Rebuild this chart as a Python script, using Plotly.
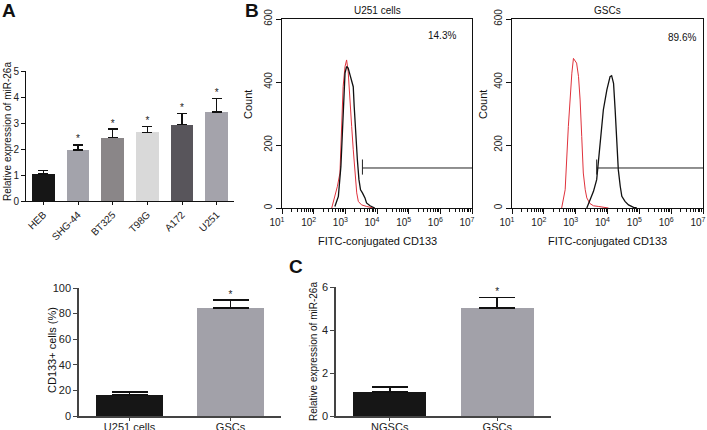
import plotly.graph_objects as go

W, H = 707, 430
FONT = "Liberation Sans, Arial, sans-serif"

# ---- panel A: miR-26a in glioma cell lines
lines_a = ["HEB", "SHG-44", "BT325", "T98G", "A172", "U251"]
expr_a = [1.03, 1.96, 2.44, 2.64, 2.94, 3.43]
err_a = [0.15, 0.2, 0.32, 0.22, 0.42, 0.52]
star_a = ["", "*", "*", "*", "*", "*"]
colors_a = ["#161616", "#a3a3ab", "#8a8688", "#d9d9d9", "#58555b", "#a4a3ab"]

# ---- panel B: CD133 flow histograms (x = log10 FITC intensity, y = count)
u251_red_x = [2.57, 2.75, 2.83, 2.88, 2.93, 2.99, 3.04, 3.09, 3.15, 3.20, 3.25, 3.30, 3.36, 3.41, 3.51, 3.67, 3.88]
u251_red_y = [0, 69, 111, 259, 385, 449, 470, 433, 354, 259, 185, 111, 48, 21, 10, 5, 0]
u251_blk_x = [2.67, 2.78, 2.86, 2.93, 2.99, 3.04, 3.09, 3.15, 3.20, 3.25, 3.28, 3.33, 3.38, 3.43, 3.48, 3.54, 3.62, 3.67, 3.78, 3.93]
u251_blk_y = [5, 37, 132, 312, 428, 449, 444, 422, 407, 385, 322, 217, 153, 90, 58, 48, 32, 16, 7, 0]
gsc_red_x = [2.56, 2.67, 2.77, 2.82, 2.88, 2.93, 2.98, 3.03, 3.09, 3.14, 3.19, 3.24, 3.30, 3.35, 3.45, 3.56, 3.71, 3.87, 4.03]
gsc_red_y = [0, 58, 259, 343, 428, 475, 465, 460, 417, 343, 227, 111, 58, 32, 14, 7, 5, 3, 0]
gsc_blk_x = [3.35, 3.45, 3.56, 3.66, 3.77, 3.87, 3.98, 4.08, 4.13, 4.19, 4.24, 4.29, 4.34, 4.40, 4.45, 4.55, 4.66, 4.82, 4.92]
gsc_blk_y = [0, 26, 53, 90, 195, 312, 375, 417, 420, 396, 312, 206, 121, 69, 37, 21, 10, 2, 0]
gate_start = [3.54, 3.66]
gate_level = 127
gate_lo, gate_hi = 106, 154
pct_text = ["14.3%", "89.6%"]
hist_titles = ["U251 cells", "GSCs"]
decades = [1, 2, 3, 4, 5, 6, 7]

# ---- bottom left: CD133+ fraction
groups_b = ["U251 cells", "GSCs"]
pct_b = [16.5, 84.5]
err_b = [2.3, 6.0]
star_b = ["", "*"]

# ---- panel C: miR-26a in NGSCs vs GSCs
groups_c = ["NGSCs", "GSCs"]
expr_c = [1.12, 5.02]
err_c = [0.23, 0.5]
star_c = ["", "*"]
colors_2 = ["#161616", "#a2a1a9"]


def fx(p):
    return p / W


def fy(p):
    return 1 - p / H


fig = go.Figure()


def bars(cats, vals, errs, stars, cols, xa, ya, bw, cap):
    fig.add_trace(go.Bar(x=cats, y=vals, marker_color=cols, marker_line_width=0, width=bw,
                         error_y=dict(type="data", array=errs, arrayminus=[0] * len(errs), symmetric=False,
                                      color="#111", thickness=1.6, width=cap),
                         xaxis=xa, yaxis=ya))
    fig.add_trace(go.Scatter(x=cats, y=[v + e for v, e in zip(vals, errs)], mode="text", text=stars,
                             textposition="top center", textfont=dict(size=10, color="#222"),
                             xaxis=xa, yaxis=ya))


bars(lines_a, expr_a, err_a, star_a, colors_a, "x", "y", 0.66, 5)
bars(groups_b, pct_b, err_b, star_b, colors_2, "x4", "y4", 0.66, 18)
bars(groups_c, expr_c, err_c, star_c, colors_2, "x5", "y5", 0.68, 18)

hists = [(u251_red_x, u251_red_y, u251_blk_x, u251_blk_y, "x2", "y2"),
         (gsc_red_x, gsc_red_y, gsc_blk_x, gsc_blk_y, "x3", "y3")]
for i, (rx, ry, bx, by, xa, ya) in enumerate(hists):
    fig.add_trace(go.Scatter(x=rx, y=ry, mode="lines", line=dict(color="#e0323c", width=1), xaxis=xa, yaxis=ya))
    fig.add_trace(go.Scatter(x=bx, y=by, mode="lines", line=dict(color="#111", width=1.3), xaxis=xa, yaxis=ya))
    fig.add_trace(go.Scatter(x=[gate_start[i], decades[-1]], y=[gate_level, gate_level], mode="lines",
                             line=dict(color="#222", width=1), xaxis=xa, yaxis=ya))
    fig.add_trace(go.Scatter(x=[gate_start[i], gate_start[i]], y=[gate_lo, gate_hi], mode="lines",
                             line=dict(color="#222", width=1), xaxis=xa, yaxis=ya))

minor_vals = [d + m for d in decades[:-1] for m in [0.301, 0.477, 0.602, 0.699, 0.778, 0.845, 0.903, 0.954]]
tick_font = dict(family=FONT, size=10, color="#222")

ax_common = dict(showgrid=False, zeroline=False, showline=True, linecolor="#111", linewidth=1,
                 ticks="outside", ticklen=4, tickcolor="#111", tickfont=tick_font, automargin=False)

hist_x = dict(ax_common, range=[decades[0], decades[-1]], tickvals=decades,
              ticktext=["10<sup>%d</sup>" % d for d in decades], mirror=True, ticklen=5,
              ticklabelshift=-5,
              minor=dict(tickmode="array", tickvals=minor_vals, ticks="outside", ticklen=3, tickcolor="#111"))
hist_y = dict(ax_common, range=[0, 600], tickvals=[0, 200, 400, 600], tickangle=-90, mirror=True, ticklen=5)

bar_line = dict(ax_common, linecolor="#444", linewidth=1.5, tickcolor="#444")
cat_font = dict(family=FONT, size=11, color="#222")

fig.update_layout(
    width=W, height=H, margin=dict(l=0, r=0, t=0, b=0),
    plot_bgcolor="white", paper_bgcolor="white", showlegend=False, bargap=0,
    font=dict(family=FONT, color="#222"),
    xaxis=dict(ax_common, domain=[fx(26), fx(234)], tickangle=-45, ticklen=3,
               tickfont=dict(family=FONT, size=10, color="#222")),
    yaxis=dict(ax_common, domain=[fy(201), fy(71)], range=[0, 5], dtick=1, ticklen=4),
    xaxis2=dict(hist_x, domain=[fx(282), fx(472)], anchor="y2"),
    yaxis2=dict(hist_y, domain=[fy(208), fy(19)], anchor="x2"),
    xaxis3=dict(hist_x, domain=[fx(512), fx(703)], anchor="y3"),
    yaxis3=dict(hist_y, domain=[fy(208), fy(19)], anchor="x3"),
    xaxis4=dict(bar_line, domain=[fx(79), fx(281)], anchor="y4", ticklen=3, ticklabelstandoff=-3,
                tickfont=cat_font),
    yaxis4=dict(bar_line, domain=[fy(416), fy(288)], anchor="x4", range=[0, 100], dtick=20,
                tickfont=cat_font),
    xaxis5=dict(bar_line, domain=[fx(336), fx(551)], anchor="y5", ticklen=3, ticklabelstandoff=-3,
                tickfont=cat_font),
    yaxis5=dict(bar_line, domain=[fy(416), fy(287)], anchor="x5", range=[0, 6], dtick=2,
                tickfont=cat_font),
)


def note(text, px, py, size=10, angle=0, bold=False):
    fig.add_annotation(text="<b>%s</b>" % text if bold else text, x=fx(px), y=fy(py),
                       xref="paper", yref="paper", showarrow=False, textangle=angle,
                       font=dict(family=FONT, size=size, color="#111"), xanchor="center", yanchor="middle")


note("A", 9, 11, 19, bold=True)
note("B", 252, 11, 19, bold=True)
note("C", 296, 266, 19, bold=True)
note("Relative expression of miR-26a", 7, 132, 10, angle=-90)
note("CD133+ cells (%)", 52, 350, 11, angle=-90)
note("Relative expression of miR-26a", 313, 352, 10, angle=-90)
for i, (cx, cnt_x) in enumerate([(377, 248), (607, 483)]):
    note(hist_titles[i], cx, 10, 10)
    note("Count", cnt_x, 105, 11, angle=-90)
    note("FITC-conjugated CD133", cx, 241, 11)
note(pct_text[0], 442, 36, 10)
note(pct_text[1], 682, 38, 10)

# page body has a default 8px margin; drop it so the figure sits at the window corner
fig.write_html("out.html", config={"displayModeBar": False},
               post_script="document.body.style.margin='0';")
